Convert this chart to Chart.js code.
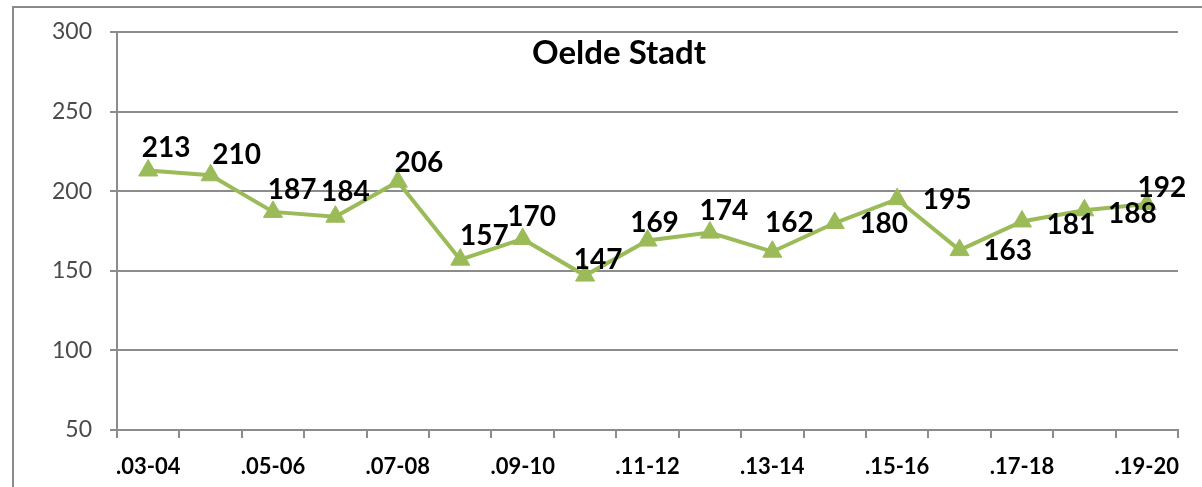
<!DOCTYPE html>
<html>
<head>
<meta charset="utf-8">
<script src="https://cdn.jsdelivr.net/npm/chart.js@4"></script>
<style>
    html, body { margin: 0; padding: 0; background: #fff; overflow: hidden; }
    #wrap { position: relative; width: 1202px; height: 487px; }
</style>
</head>
<body>
<div id="wrap"><canvas id="chart"></canvas></div>
<script>
// season labels, only every other one is printed on the axis
const seasons = ['.03-04', '.04-05', '.05-06', '.06-07', '.07-08', '.08-09', '.09-10', '.10-11',
    '.11-12', '.12-13', '.13-14', '.14-15', '.15-16', '.16-17', '.17-18', '.18-19', '.19-20'];
const counts = [213, 210, 187, 184, 206, 157, 170, 147, 169, 174, 162, 180, 195, 163, 181, 188, 192];
const yTicks = [50, 100, 150, 200, 250, 300];

// where each value label sits relative to its marker (px)
const labelOffsets = [
    [18, -23], [26, -20], [19, -22], [10, -25], [21, -19], [24, -24], [9, -22], [13, -16],
    [7, -18], [14, -22], [17, -29], [49, 1], [50, 1], [48, 1], [49, 4], [48, 4], [15, -16]
];

const GREEN = '#9BBB59';
const GRID = '#8c8c8c';
const FONT = 'Lato, "Open Sans", sans-serif';

const frame = {
    id: 'frame',
    beforeDraw(chart) {
        const ctx = chart.ctx;
        ctx.save();
        ctx.strokeStyle = '#8a8a8a';
        ctx.lineWidth = 2;
        ctx.strokeRect(13, 7, 2000, 2000);
        ctx.restore();
    }
};

const titleInside = {
    id: 'titleInside',
    afterDraw(chart) {
        const ctx = chart.ctx;
        ctx.save();
        ctx.font = 'bold 33px ' + FONT;
        ctx.fillStyle = '#000';
        ctx.textAlign = 'center';
        ctx.textBaseline = 'middle';
        ctx.fillText('Oelde Stadt', chart.width * 0.515, chart.chartArea.top + 21);
        ctx.restore();
    }
};

const valueLabels = {
    id: 'valueLabels',
    afterDatasetsDraw(chart) {
        const ctx = chart.ctx;
        const meta = chart.getDatasetMeta(0);
        ctx.save();
        ctx.font = 'bold 28px ' + FONT;
        ctx.fillStyle = '#000';
        ctx.textAlign = 'center';
        ctx.textBaseline = 'middle';
        meta.data.forEach((pt, i) => {
            const [dx, dy] = labelOffsets[i];
            ctx.fillText(String(counts[i]), pt.x + dx, pt.y + dy);
        });
        ctx.restore();
    }
};

new Chart(document.getElementById('chart'), {
    type: 'line',
    data: {
        labels: seasons,
        datasets: [{
            data: counts,
            borderColor: GREEN,
            borderWidth: 4,
            backgroundColor: GREEN,
            pointStyle: 'triangle',
            pointRadius: 11,
            pointBorderWidth: 1,
            pointBorderColor: GREEN,
            pointBackgroundColor: GREEN,
            tension: 0
        }]
    },
    options: {
        responsive: true,
        maintainAspectRatio: false,
        animation: false,
        layout: { padding: { top: 32, right: 24, left: 0, bottom: 0 } },
        plugins: {
            legend: { display: false },
            tooltip: { enabled: false },
            title: { display: false }
        },
        scales: {
            x: {
                offset: true,
                grid: {
                    offset: true,
                    drawOnChartArea: false,
                    drawTicks: true,
                    tickLength: 8,
                    color: GRID,
                    lineWidth: 2
                },
                border: { color: GRID, width: 2 },
                ticks: {
                    autoSkip: false,
                    maxRotation: 0,
                    padding: 16,
                    color: '#000',
                    font: { family: FONT, size: 22, weight: 'bold' },
                    callback: (v, i) => (i % 2 === 0 ? seasons[i] : '')
                },
                afterFit: s => { s.height = 57; }
            },
            y: {
                min: 50,
                max: 300,
                afterBuildTicks: s => { s.ticks = yTicks.map(v => ({ value: v })); },
                grid: {
                    color: GRID,
                    lineWidth: 2,
                    tickLength: 7
                },
                border: { color: GRID, width: 2 },
                ticks: {
                    padding: 18,
                    color: '#4a4a4a',
                    font: { family: FONT, size: 23 }
                },
                afterFit: s => { s.width = 117; }
            }
        }
    },
    plugins: [frame, titleInside, valueLabels]
});
</script>
</body>
</html>
